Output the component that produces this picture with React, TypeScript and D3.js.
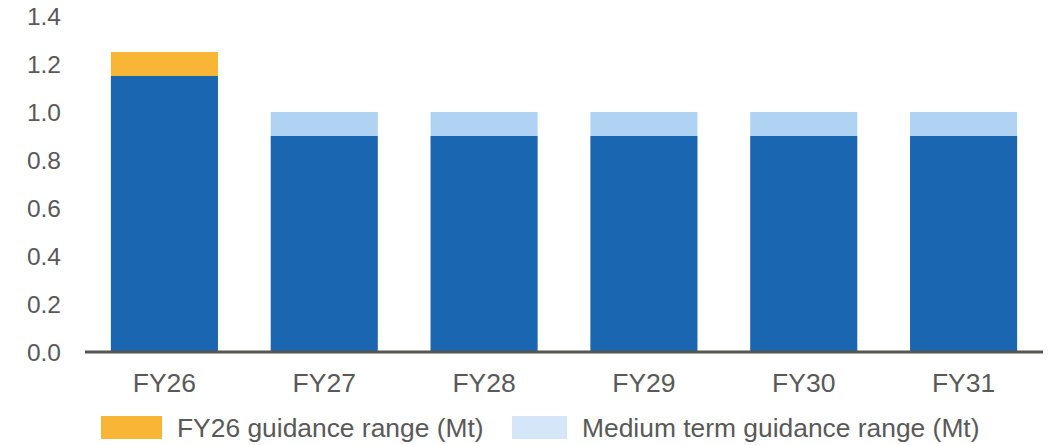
import * as d3 from "d3";
import { useEffect, useRef } from "react";

// DATA
const years = ["FY26", "FY27", "FY28", "FY29", "FY30", "FY31"];
const baseValues = [1.15, 0.9, 0.9, 0.9, 0.9, 0.9];
const rangeValues = [0.1, 0.1, 0.1, 0.1, 0.1, 0.1];
const rangeKind = ["fy26", "medium", "medium", "medium", "medium", "medium"];
const yTicks = [0, 0.2, 0.4, 0.6, 0.8, 1.0, 1.2, 1.4];
const legendItems = [
  { key: "fy26", label: "FY26 guidance range (Mt)" },
  { key: "medium", label: "Medium term guidance range (Mt)" },
];

const W = 1053;
const H = 445;
const FONT = "'Liberation Sans', Arial, sans-serif";
const TEXT = "#595959";
const BLUE = "#1a66b0";
const rangeColor: Record<string, string> = { fy26: "#f9b536", medium: "#b0d3f3" };
const legendColor: Record<string, string> = { fy26: "#f9b536", medium: "#d5e6f8" };

export const App = () => {
  const svgRef = useRef<SVGSVGElement>(null);

  useEffect(() => {
    const svg = d3.select(svgRef.current);
    svg.selectAll("*").remove();

    //SCALES
    const x = d3.scaleBand().domain(years).range([84.5, 1043.5]).paddingInner(0.33).paddingOuter(0.165);
    const y = d3.scaleLinear().domain([0, 1.4]).range([352, 16]);

    //Y LABELS
    svg
      .append("g")
      .selectAll("text")
      .data(yTicks)
      .enter()
      .append("text")
      .attr("x", 61)
      .attr("y", (d) => y(d))
      .attr("dy", "0.35em")
      .attr("text-anchor", "end")
      .attr("font-family", FONT)
      .attr("font-size", 24.5)
      .attr("fill", TEXT)
      .text((d) => d3.format(".1f")(d));

    //BASE BARS
    svg
      .append("g")
      .selectAll("rect")
      .data(years)
      .enter()
      .append("rect")
      .attr("x", (d) => x(d)!)
      .attr("width", x.bandwidth())
      .attr("y", (d, i) => y(baseValues[i]))
      .attr("height", (d, i) => y(0) - y(baseValues[i]))
      .attr("fill", BLUE);

    //RANGE BARS
    svg
      .append("g")
      .selectAll("rect")
      .data(years)
      .enter()
      .append("rect")
      .attr("x", (d) => x(d)!)
      .attr("width", x.bandwidth())
      .attr("y", (d, i) => y(baseValues[i] + rangeValues[i]))
      .attr("height", (d, i) => y(baseValues[i]) - y(baseValues[i] + rangeValues[i]))
      .attr("fill", (d, i) => rangeColor[rangeKind[i]]);

    //AXIS LINE
    svg
      .append("line")
      .attr("x1", 85)
      .attr("x2", 1043)
      .attr("y1", y(0))
      .attr("y2", y(0))
      .attr("stroke", "#545750")
      .attr("stroke-width", 3);

    //X LABELS
    svg
      .append("g")
      .selectAll("text")
      .data(years)
      .enter()
      .append("text")
      .attr("x", (d) => x(d)! + x.bandwidth() / 2)
      .attr("y", 392)
      .attr("text-anchor", "middle")
      .attr("font-family", FONT)
      .attr("font-size", 26.5)
      .attr("fill", TEXT)
      .text((d) => d);

    //LEGEND
    const legendX = [101, 512];
    const legend = svg
      .append("g")
      .selectAll("g")
      .data(legendItems)
      .enter()
      .append("g")
      .attr("transform", (d, i) => `translate(${legendX[i]}, 416)`);
    legend
      .append("rect")
      .attr("width", (d, i) => (i === 0 ? 61 : 55))
      .attr("height", 23)
      .attr("fill", (d) => legendColor[d.key]);
    legend
      .append("text")
      .attr("x", (d, i) => (i === 0 ? 76 : 70))
      .attr("y", 21)
      .attr("font-family", FONT)
      .attr("font-size", 26.4)
      .attr("fill", TEXT)
      .text((d) => d.label);
  }, []);

  return <svg ref={svgRef} width={W} height={H} style={{ position: "absolute", left: 0, top: 0 }} />;
};

export default App;
